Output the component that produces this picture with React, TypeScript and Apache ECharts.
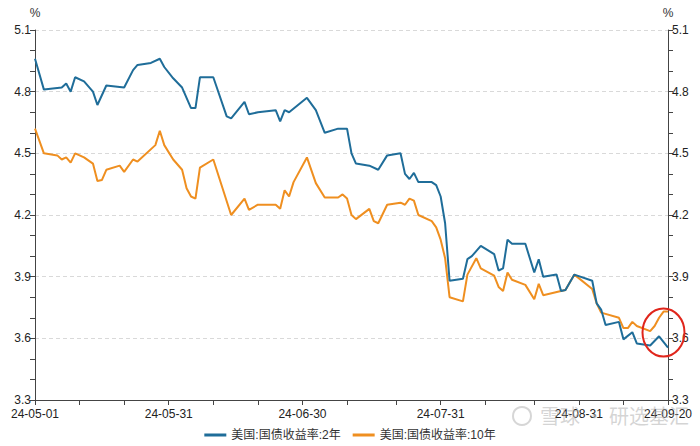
import React, { useEffect, useRef } from "react";
import * as echarts from "echarts";

// Axis domain: every calendar day from 2024-05-01 to 2024-09-20
const START_DATE = Date.UTC(2024, 4, 1);
const DAY_COUNT = 143;
const dates: string[] = [];
for (let i = 0; i < DAY_COUNT; i++) {
  const d = new Date(START_DATE + i * 86400000);
  const yy = String(d.getUTCFullYear()).slice(2);
  const mm = String(d.getUTCMonth() + 1).padStart(2, "0");
  const dd = String(d.getUTCDate()).padStart(2, "0");
  dates.push(`${yy}-${mm}-${dd}`);
}

const labelDays = [0, 30, 60, 91, 122, 142];
const tickDays = [0, 10, 20, 30, 40, 50, 60, 70, 81, 91, 101, 112, 122, 132, 142];

const seriesNames = ["美国:国债收益率:2年", "美国:国债收益率:10年"];

// 2-year yield (day offset from 24-05-01, value in %)
const twoYearDays = [0, 2, 6, 7, 8, 9, 11, 13, 14, 16, 20, 22, 23, 26, 28, 29, 31, 33, 35, 36, 37, 40, 43, 44, 47, 48, 50, 54, 55, 56, 57, 61, 63, 65, 68, 70, 71, 72, 75, 77, 79, 82, 83, 84, 85, 86, 89, 90, 91, 92, 93, 96, 97, 98, 100, 103, 104, 105, 106, 107, 110, 112, 113, 114, 117, 118, 119, 121, 125, 126, 127, 128, 131, 132, 134, 135, 138, 140, 142];
const twoYearValues = [4.96, 4.81, 4.82, 4.84, 4.80, 4.87, 4.85, 4.80, 4.735, 4.83, 4.82, 4.905, 4.93, 4.94, 4.96, 4.92, 4.865, 4.82, 4.72, 4.72, 4.87, 4.87, 4.68, 4.67, 4.75, 4.69, 4.70, 4.71, 4.655, 4.71, 4.70, 4.77, 4.71, 4.60, 4.62, 4.62, 4.50, 4.45, 4.44, 4.42, 4.49, 4.50, 4.40, 4.375, 4.405, 4.36, 4.36, 4.345, 4.29, 4.16, 3.88, 3.89, 3.985, 4.00, 4.05, 4.01, 3.93, 3.94, 4.08, 4.06, 4.06, 3.92, 3.985, 3.90, 3.91, 3.83, 3.835, 3.91, 3.88, 3.77, 3.74, 3.665, 3.68, 3.595, 3.63, 3.575, 3.565, 3.61, 3.555];

// 10-year yield
const tenYearDays = [0, 2, 5, 6, 7, 8, 9, 11, 13, 14, 15, 16, 19, 20, 22, 23, 27, 28, 29, 31, 33, 34, 35, 36, 37, 40, 44, 47, 48, 50, 54, 55, 56, 57, 58, 61, 63, 65, 68, 69, 70, 71, 72, 75, 76, 77, 79, 82, 83, 84, 85, 86, 89, 90, 91, 92, 93, 96, 97, 99, 100, 103, 104, 105, 106, 107, 110, 112, 113, 114, 118, 119, 121, 125, 126, 127, 131, 132, 133, 134, 135, 138, 139, 140, 141, 142];
const tenYearValues = [4.62, 4.50, 4.49, 4.47, 4.48, 4.455, 4.50, 4.48, 4.45, 4.365, 4.37, 4.42, 4.44, 4.41, 4.47, 4.46, 4.54, 4.61, 4.54, 4.47, 4.42, 4.33, 4.29, 4.28, 4.43, 4.47, 4.20, 4.28, 4.225, 4.25, 4.25, 4.23, 4.32, 4.29, 4.36, 4.48, 4.355, 4.285, 4.285, 4.30, 4.28, 4.20, 4.18, 4.23, 4.17, 4.16, 4.25, 4.26, 4.25, 4.28, 4.27, 4.20, 4.17, 4.14, 4.08, 3.99, 3.80, 3.78, 3.91, 3.99, 3.94, 3.905, 3.85, 3.83, 3.92, 3.885, 3.86, 3.79, 3.865, 3.81, 3.83, 3.835, 3.91, 3.84, 3.77, 3.725, 3.70, 3.65, 3.65, 3.68, 3.66, 3.635, 3.66, 3.70, 3.73, 3.73];

const Y_MIN = 3.3;
const Y_MAX = 5.1;
const Y_STEP = 0.3;

const BLUE = "#1f6d99";
const ORANGE = "#ef8f20";
const AXIS = "#444";
const FONT = "'Liberation Sans', Arial, 'Noto Sans CJK SC', sans-serif";

function yAxis(position: "left" | "right", showSplit: boolean) {
  return {
    type: "value",
    position,
    min: Y_MIN,
    max: Y_MAX,
    interval: Y_STEP,
    name: "%",
    nameLocation: "end",
    nameGap: 11,
    nameTextStyle: { color: "#333", fontSize: 12, fontFamily: FONT },
    axisLine: { show: true, lineStyle: { color: AXIS, width: 1 } },
    axisTick: { show: true, length: 5, lineStyle: { color: AXIS } },
    minorTick: { show: true, splitNumber: 3, length: 5, lineStyle: { color: AXIS } },
    splitLine: { show: showSplit, lineStyle: { color: "#d9d9d9", type: [4, 3] } },
    minorSplitLine: { show: false },
    axisLabel: {
      color: "#222",
      fontSize: 12,
      fontFamily: FONT,
      margin: 4,
      formatter: (v: number) => v.toFixed(1),
    },
  };
}

export default function App() {
  const ref = useRef<HTMLDivElement>(null);

  useEffect(() => {
    document.body.style.margin = "0";
    if (!ref.current) return;
    const chart = echarts.init(ref.current, null, { renderer: "svg" });
    const twoYearData = twoYearDays.map((d, i) => [dates[d], twoYearValues[i]]);
    const tenYearData = tenYearDays.map((d, i) => [dates[d], tenYearValues[i]]);

    chart.setOption({
      animation: false,
      backgroundColor: "#fff",
      textStyle: { fontFamily: FONT },
      grid: { left: 35, right: 32, top: 30, bottom: 46, containLabel: false },
      legend: {
        data: seriesNames,
        top: 424,
        left: "center",
        icon: "rect",
        itemWidth: 22,
        itemHeight: 3,
        itemGap: 12,
        textStyle: { color: "#333", fontSize: 12, fontFamily: FONT },
      },
      xAxis: {
        type: "category",
        data: dates,
        boundaryGap: false,
        axisLine: { show: true, lineStyle: { color: AXIS, width: 1 } },
        axisTick: {
          show: true,
          length: 5,
          lineStyle: { color: AXIS },
          interval: (index: number) => tickDays.includes(index),
        },
        axisLabel: {
          color: "#222",
          fontSize: 12,
          fontFamily: FONT,
          margin: 8,
          interval: (index: number) => labelDays.includes(index),
        },
        splitLine: { show: false },
      },
      yAxis: [yAxis("left", true), yAxis("right", false)],
      series: [
        {
          name: seriesNames[0],
          type: "line",
          data: twoYearData,
          showSymbol: false,
          symbol: "none",
          lineStyle: { color: BLUE, width: 2 },
          itemStyle: { color: BLUE },
          z: 3,
        },
        {
          name: seriesNames[1],
          type: "line",
          data: tenYearData,
          showSymbol: false,
          symbol: "none",
          lineStyle: { color: ORANGE, width: 2 },
          itemStyle: { color: ORANGE },
          z: 2,
        },
      ],
      graphic: [
        {
          type: "ellipse",
          shape: { cx: 663.5, cy: 332.5, rx: 21, ry: 24 },
          style: { fill: "none", stroke: "#e0261c", lineWidth: 2 },
          z: 10,
        },
        {
          type: "circle",
          shape: { cx: 522, cy: 416, r: 9 },
          style: { fill: "none", stroke: "rgba(180,180,180,0.55)", lineWidth: 2 },
          z: 20,
        },
        {
          type: "text",
          x: 540,
          y: 405,
          style: {
            text: "雪球 · 研选基汇",
            fill: "rgba(170,170,170,0.5)",
            fontSize: 20,
            fontFamily: "'Noto Sans CJK SC', sans-serif",
          },
          z: 20,
        },
      ],
    });
    return () => chart.dispose();
  }, []);

  return <div ref={ref} style={{ width: 700, height: 446 }} />;
}
